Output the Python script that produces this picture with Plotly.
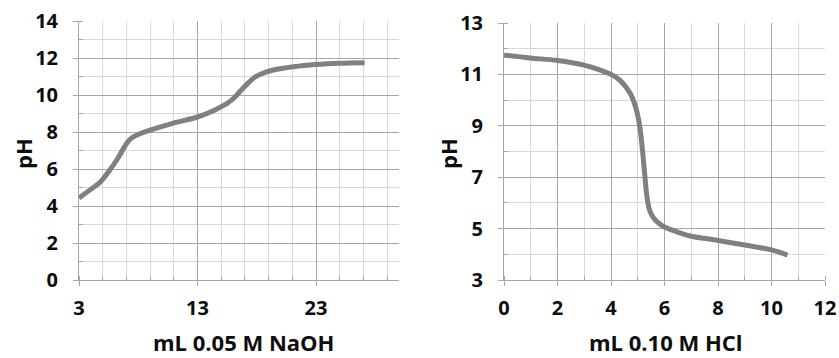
import plotly.graph_objects as go

# Left: titration with NaOH
naoh_ml = [3.0, 4.0, 4.8, 5.6, 6.2, 6.7, 7.1, 7.5, 7.9, 9.0, 10.9, 13.0, 14.0, 14.8, 15.5, 16.1, 16.6, 17.2, 17.8, 18.4, 19.4, 21.1, 23.0, 25.0, 27.1]
naoh_ph = [4.43, 4.9, 5.3, 5.95, 6.5, 7.05, 7.45, 7.7, 7.84, 8.1, 8.47, 8.81, 9.05, 9.3, 9.55, 9.85, 10.2, 10.6, 10.95, 11.15, 11.35, 11.53, 11.65, 11.72, 11.75]

# Right: titration with HCl
hcl_ml = [0.0, 0.97, 2.0, 2.96, 3.6, 4.0, 4.3, 4.55, 4.75, 4.9, 5.02, 5.12, 5.2, 5.27, 5.35, 5.45, 5.6, 5.8, 6.0, 6.58, 7.0, 8.0, 9.0, 10.0, 10.6]
hcl_ph = [11.75, 11.64, 11.54, 11.37, 11.17, 11.0, 10.8, 10.52, 10.2, 9.8, 9.3, 8.6, 7.8, 7.0, 6.2, 5.7, 5.4, 5.2, 5.06, 4.83, 4.7, 4.54, 4.36, 4.17, 3.97]

# axis tick settings (start, step)
left_xtick = (3, 10)
left_ytick = (0, 2)
right_xtick = (0, 2)
right_ytick = (3, 2)

FONT = "Open Sans"
TXT = "#0d0d0d"
MAJ = "#a6a6a6"
MIN = "#d9d9d9"
LINE = "#808080"

fig = go.Figure()
fig.add_trace(go.Scatter(x=naoh_ml, y=naoh_ph, mode="lines", xaxis="x", yaxis="y",
                         line=dict(color=LINE, width=5, shape="spline", smoothing=1),
                         showlegend=False, hoverinfo="skip"))
fig.add_trace(go.Scatter(x=hcl_ml, y=hcl_ph, mode="lines", xaxis="x2", yaxis="y2",
                         line=dict(color=LINE, width=5, shape="spline", smoothing=1),
                         showlegend=False, hoverinfo="skip"))

tickfont = dict(family=FONT, size=20, color=TXT, weight="bold")

def ax(domain, rng, tick, minor_dtick, anchor, xaxis):
    d = dict(domain=domain, range=rng, tickmode="linear", tick0=tick[0], dtick=tick[1],
             showgrid=True, gridcolor=MAJ, gridwidth=1,
             showline=True, linecolor=MAJ, linewidth=1,
             ticks="outside", ticklen=5, tickcolor=MAJ,
             tickfont=tickfont, zeroline=False, anchor=anchor, automargin=False,
             minor=dict(tickmode="linear", dtick=minor_dtick, tick0=tick[0], showgrid=True,
                        gridcolor=MIN, gridwidth=1, ticks="inside", ticklen=4,
                        tickcolor=MAJ),
             fixedrange=True)
    d["ticklabelstandoff"] = 5 if xaxis else 11
    return d

W, H = 839, 358
fig.update_layout(
    width=W, height=H,
    margin=dict(l=0, r=0, t=0, b=0),
    paper_bgcolor="white", plot_bgcolor="white",
    xaxis=ax([79 / W, 399 / W], [3, 30], left_xtick, 2, "y", True),
    yaxis=ax([(H - 280) / H, (H - 21) / H], [0, 14], left_ytick, 1, "x", False),
    xaxis2=ax([504 / W, 825 / W], [0, 12], right_xtick, 1, "y2", True),
    yaxis2=ax([(H - 280) / H, (H - 23) / H], [3, 13], right_ytick, 1, "x2", False),
)

titlefont = dict(family=FONT, size=22, color=TXT, weight="bold")
annos = [
    dict(text="mL 0.05 M NaOH", x=243 / W, y=0, yanchor="bottom", yshift=-1),
    dict(text="mL 0.10 M HCl", x=666 / W, y=0, yanchor="bottom", yshift=-1),
    dict(text="pH", x=23 / W, y=(H - 154) / H, yanchor="middle", textangle=-90),
    dict(text="pH", x=448 / W, y=(H - 154) / H, yanchor="middle", textangle=-90),
]
for a in annos:
    fig.add_annotation(xref="paper", yref="paper", showarrow=False,
                       xanchor="center", font=titlefont, **a)

fig.write_html("out.html")
